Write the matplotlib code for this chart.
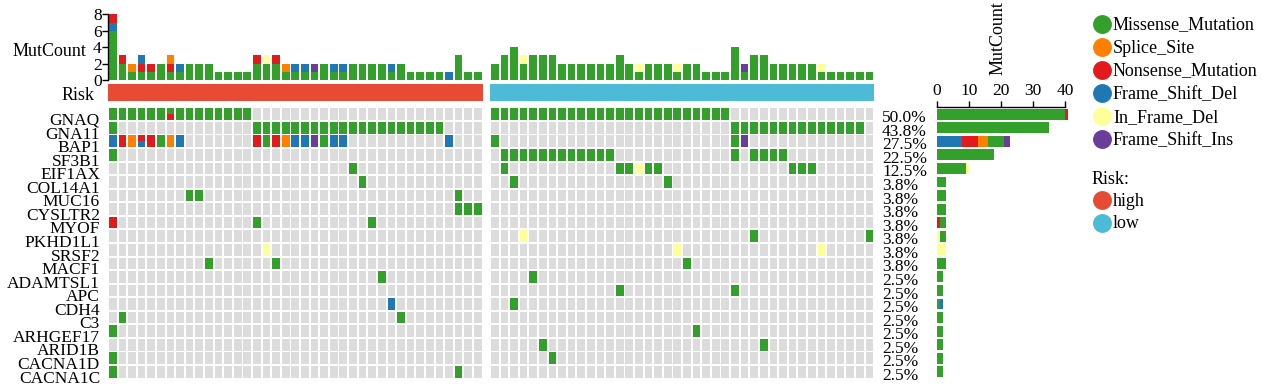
import matplotlib
matplotlib.use("Agg")
import matplotlib.pyplot as plt
from matplotlib.transforms import blended_transform_factory

# ---------------- data ----------------
genes = ["GNAQ", "GNA11", "BAP1", "SF3B1", "EIF1AX", "COL14A1", "MUC16", "CYSLTR2",
         "MYOF", "PKHD1L1", "SRSF2", "MACF1", "ADAMTSL1", "APC", "CDH4", "C3",
         "ARHGEF17", "ARID1B", "CACNA1D", "CACNA1C"]

type_codes = ["M", "S", "N", "D", "I", "F"]
type_names = ["Missense_Mutation", "Splice_Site", "Nonsense_Mutation",
              "Frame_Shift_Del", "In_Frame_Del", "Frame_Shift_Ins"]
type_colors = ["#33A02C", "#FF7F00", "#E31A1C", "#1F78B4", "#FFFF99", "#6A3D9A"]
# cells holding two variants: (upper half, lower half)
double_hits = {"x": "MN", "y": "ND"}

risk_levels = ["high", "low"]
risk_colors = ["#E64B35", "#4DBBD5"]
total_samples = 80

# one string per gene, one character per sample ('.' = wild type)
high_grid = [
    "MMMMMMxMMM MMMMM..... .......... .........",
    "M......... .....MMMMM MMMMMMMMMM MMMMM....",
    "DNSyNMSD.. .....NMNSD DFMDD..... .....D...",
    "M......... .......... .......... .........",
    ".......... .......... .....M.... .........",
    ".......... .......... ......M... .........",
    "........MM .......... .......... ......M..",
    ".......... .......... .......... ......MMM",
    "N......... .....M.... .......M.. .........",
    ".......... .......... .......... .........",
    ".......... ......I... .......... .........",
    ".......... M......M.. .......... .........",
    ".......... .......... ........M. .........",
    ".......... .......... .......... .........",
    ".......... .......... .........D .........",
    ".M........ .......... .......... M........",
    "M......... .......... .......... .........",
    ".......... .......... .......... .........",
    "M......... .......... .......... .........",
    "M......... .......... .......... ......M..",
]
low_grid = [
    "MMMMMMMMMM MMMMMMMMMM MMMMM..... ..........",
    ".......... .......... .....MMMMM MMMMMMMMM.",
    "M......... .......... .....MF... ..........",
    ".MMMMMMMMM MMM....... .....M.MMM M.........",
    ".M........ ...MMIMM.. .......... .MMM......",
    "..M....... ........M. .......... ..........",
    ".......... .......... .......... ..........",
    ".......... .......... .......... ..........",
    ".......... .......... .......... ..........",
    "...I...... .......... .......M.. .........M",
    ".......... .........I .......... ....I.....",
    ".......... .......... M......... ..........",
    "....M..... .......... .......... ..........",
    ".......... ...M...... .....M.... ..........",
    "..M....... .......... .......... ..........",
    ".......... .......... .......... ..........",
    ".......... .......... .M........ ..........",
    ".....M.... .......... ........M. ..........",
    "......M... .......... .......... ..........",
    ".......... .......... .......... ..........",
]
# stacking order of variant types in the right-hand bars (as drawn)
bar_stack_order = ["MN", "M", "DNSMF", "M", "MI", "M", "M", "M", "NM", "IM",
                   "I", "M", "M", "M", "MD", "M", "M", "M", "M", "M"]

# ---------------- layout / style ----------------
W, H = 1263, 387
plt.rcParams["font.family"] = ["Liberation Serif", "DejaVu Serif"]
FS = 12.5       # row labels / percentages
FS_LEG = 13     # legend and titles
color_of = dict(zip(type_codes, type_colors))
GRAY = "#DCDCDC"
col_pitch = 9.605
cell_w, cell_h = 0.80, 0.86

fig = plt.figure(figsize=(W / 100, H / 100), dpi=100)


def px_axes(x0, y0, x1, y1):
    return fig.add_axes([x0 / W, 1 - y1 / H, (x1 - x0) / W, (y1 - y0) / H])


def cell_types(ch):
    if ch == ".":
        return []
    return list(double_hits.get(ch, ch))


grid_top, grid_bot = 107.4, 378.6
groups = [(high_grid, 108.0, risk_colors[0]), (low_grid, 490.0, risk_colors[1])]
gene_counts = [dict() for _ in genes]
gene_mutated = [0 for _ in genes]

for gi, (grid, x0, rcolor) in enumerate(groups):
    rows = [s.replace(" ", "") for s in grid]
    ncol = len(rows[0])
    x1 = x0 + ncol * col_pitch

    # --- oncoprint cells ---
    ax = px_axes(x0, grid_top, x1, grid_bot)
    xs, bots, hs, cols = [], [], [], []
    for r, row in enumerate(rows):
        for c, ch in enumerate(row):
            t = cell_types(ch)
            if not t:
                xs.append(c); bots.append(r - cell_h / 2); hs.append(cell_h); cols.append(GRAY)
            elif len(t) == 1:
                xs.append(c); bots.append(r - cell_h / 2); hs.append(cell_h); cols.append(color_of[t[0]])
            else:
                xs.append(c); bots.append(r - cell_h / 2); hs.append(cell_h / 2); cols.append(color_of[t[0]])
                xs.append(c); bots.append(r); hs.append(cell_h / 2); cols.append(color_of[t[1]])
            if t:
                gene_mutated[r] += 1
                for tt in t:
                    gene_counts[r][tt] = gene_counts[r].get(tt, 0) + 1
    ax.bar(xs, hs, width=cell_w, bottom=bots, color=cols, linewidth=0)
    ax.set_xlim(-0.5, ncol - 0.5)
    ax.set_ylim(len(genes) - 0.5, -0.5)
    ax.axis("off")

    # --- top stacked bars (mutation count per sample) ---
    axt = px_axes(x0, 14.5, x1, 80)
    for c in range(ncol):
        order, cnt = [], {}
        for row in rows:
            for tt in cell_types(row[c]):
                if tt not in cnt:
                    order.append(tt); cnt[tt] = 0
                cnt[tt] += 1
        base = 0
        for tt in order:
            axt.bar(c, cnt[tt], width=cell_w, bottom=base, color=color_of[tt], linewidth=0)
            base += cnt[tt]
    axt.set_xlim(-0.5, ncol - 0.5)
    axt.set_ylim(0, 8)
    for s in ["top", "right", "bottom"]:
        axt.spines[s].set_visible(False)
    axt.set_xticks([])
    if gi == 0:
        axt.set_yticks([0, 2, 4, 6, 8])
        axt.tick_params(axis="y", direction="out", length=4, width=1, pad=0.5, labelsize=12.5)
        axt.spines["left"].set_linewidth(1)
    else:
        axt.spines["left"].set_visible(False)
        axt.set_yticks([])
    axt.patch.set_alpha(0)

    # --- risk annotation bar ---
    axr = px_axes(x0, 84, x1, 100.5)
    axr.bar((ncol - 1) / 2, 1, width=ncol, bottom=0, color=rcolor, linewidth=0)
    axr.set_xlim(-0.5, ncol - 0.5)
    axr.set_ylim(0, 1)
    axr.axis("off")

    if gi == 0:
        tr = blended_transform_factory(fig.transFigure, ax.transData)
        for r, g in enumerate(genes):
            ax.text(100 / W, r + 0.5, g, transform=tr, ha="right", va="center", fontsize=FS)

# labels on the left
fig.text(86 / W, 1 - 51 / H, "MutCount", ha="right", va="center", fontsize=FS_LEG)
fig.text(95 / W, 1 - 95 / H, "Risk", ha="right", va="center", fontsize=FS_LEG)

# ---------------- right-hand bar chart ----------------
axb = px_axes(936.7, grid_top, 1065.0, grid_bot)
for r, g in enumerate(genes):
    base = 0
    for tt in bar_stack_order[r]:
        n = gene_counts[r].get(tt, 0)
        axb.barh(r, n, height=0.80, left=base, color=color_of[tt], linewidth=0, clip_on=False)
        base += n
axb.set_xlim(0, 40)
axb.set_ylim(len(genes) - 0.5, -0.5)
for s in ["right", "bottom", "left"]:
    axb.spines[s].set_visible(False)
axb.spines["top"].set_linewidth(1)
axb.xaxis.tick_top()
axb.set_xticks([0, 10, 20, 30, 40])
axb.tick_params(axis="x", direction="out", length=4, width=1, pad=2, labelsize=12.5)
axb.set_yticks([])
axb.patch.set_alpha(0)
fig.text(998 / W, 1 - 38 / H, "MutCount", rotation=90, ha="center", va="center", fontsize=FS_LEG)

trp = blended_transform_factory(fig.transFigure, axb.transData)
for r in range(len(genes)):
    pct = 100 * gene_mutated[r] / total_samples
    axb.text(882 / W, r + 0.3, f"{pct:.1f}%", transform=trp, ha="left", va="center", fontsize=FS)

# ---------------- legend ----------------
axl = fig.add_axes([0, 0, 1, 1])
axl.set_xlim(0, W)
axl.set_ylim(H, 0)
axl.axis("off")
axl.patch.set_alpha(0)
leg_y0, leg_dy = 24, 23.06
for i, (name, colr) in enumerate(zip(type_names, type_colors)):
    y = leg_y0 + i * leg_dy
    axl.scatter([1101.7], [y], s=185, color=colr, linewidths=0)
    axl.text(1113, y + 1, name, ha="left", va="center", fontsize=FS_LEG)
axl.text(1091.5, 180, "Risk:", ha="left", va="center", fontsize=FS_LEG)
for i, (lv, colr) in enumerate(zip(risk_levels, risk_colors)):
    y = 200 + i * 22.7
    axl.scatter([1101.7], [y], s=185, color=colr, linewidths=0)
    axl.text(1113, y + 1, lv, ha="left", va="center", fontsize=FS_LEG)

fig.savefig("out.png", dpi=100)
